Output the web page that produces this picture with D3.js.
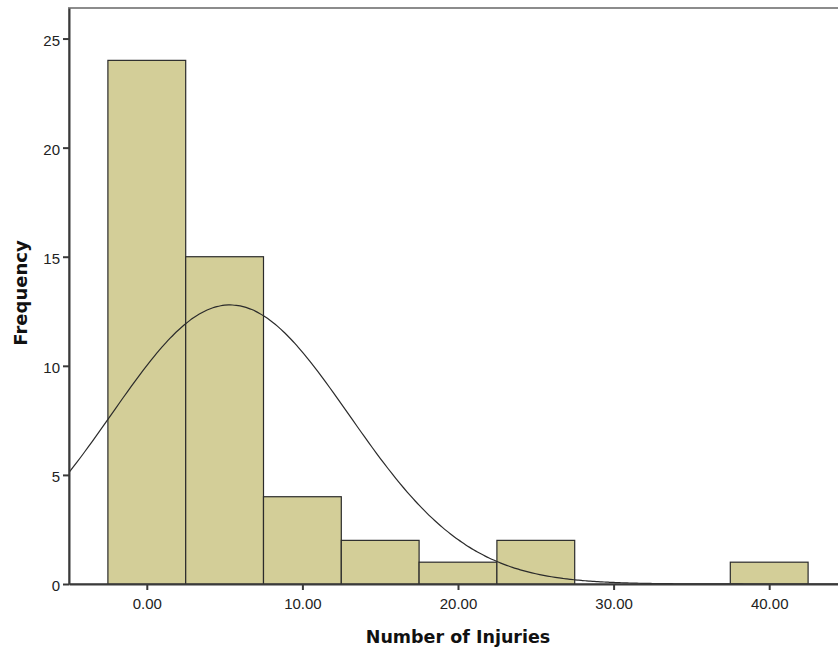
<!DOCTYPE html>
<html>
<head>
<meta charset="utf-8">
<script src="https://cdn.jsdelivr.net/npm/d3@7"></script>
<style>
  body { margin: 0; background: #fff; }
  text { font-family: "Liberation Sans", Arial, sans-serif; }
</style>
</head>
<body>
<div id="chart"></div>
<script>
// histogram data: bin centres and counts
var binCenters = [0, 5, 10, 15, 20, 25, 30, 35, 40];
var counts = [24, 15, 4, 2, 1, 2, 0, 0, 1];
var binWidth = 5;
var xTicks = [0, 10, 20, 30, 40];
var yTicks = [0, 5, 10, 15, 20, 25];

// normal curve parameters
var mean = 5.35;
var sd = 7.64;
var n = 49;

var svgWidth = 838;
var svgHeight = 650;
var margin = { top: 8, right: -9, bottom: 66, left: 69 };
var width = svgWidth - margin.left - margin.right;
var height = svgHeight - margin.top - margin.bottom;

var svg = d3.select("#chart")
  .append("svg")
  .attr("width", svgWidth)
  .attr("height", svgHeight);

var g = svg.append("g")
  .attr("transform", `translate(${margin.left}, ${margin.top})`);

var x = d3.scaleLinear().domain([-5, 45]).range([0, width]);
var y = d3.scaleLinear().domain([0, 26.4]).range([height, 0]);

g.append("clipPath").attr("id", "clip")
  .append("rect").attr("width", width).attr("height", height);

// frame
g.append("rect")
  .attr("width", width)
  .attr("height", height)
  .attr("fill", "none")
  .attr("stroke", "#8c8c8c")
  .attr("stroke-width", 2);

// bars
g.selectAll(".bar")
  .data(binCenters.map((c, i) => ({ c: c, v: counts[i] })).filter(d => d.v > 0))
  .enter()
  .append("rect")
  .attr("class", "bar")
  .attr("x", d => x(d.c - binWidth / 2))
  .attr("y", d => y(d.v))
  .attr("width", d => x(d.c + binWidth / 2) - x(d.c - binWidth / 2))
  .attr("height", d => height - y(d.v))
  .attr("fill", "#d3ce98")
  .attr("stroke", "#2b2b2b")
  .attr("stroke-width", 1.2);

// normal curve
var curveX = d3.range(-5, 45.01, 0.25);
var line = d3.line()
  .x(d => x(d))
  .y(d => y(n * binWidth * Math.exp(-Math.pow(d - mean, 2) / (2 * sd * sd)) / (sd * Math.sqrt(2 * Math.PI))))
  .curve(d3.curveBasis);

g.append("path")
  .datum(curveX)
  .attr("clip-path", "url(#clip)")
  .attr("d", line)
  .attr("fill", "none")
  .attr("stroke", "#2b2b2b")
  .attr("stroke-width", 1.2);

// axes
var xAxis = d3.axisBottom(x).tickValues(xTicks).tickFormat(d3.format(".2f")).tickSize(6).tickSizeOuter(0);
var yAxis = d3.axisLeft(y).tickValues(yTicks).tickSize(6).tickSizeOuter(0);

var gx = g.append("g")
  .attr("transform", `translate(0, ${height})`)
  .call(xAxis);
var gy = g.append("g").call(yAxis);

[gx, gy].forEach(function(a) {
  a.select(".domain").attr("stroke", "#3a3a3a").attr("stroke-width", 2);
  a.selectAll(".tick line").attr("stroke", "#3a3a3a").attr("stroke-width", 2);
  a.selectAll(".tick text").attr("fill", "#222").style("font-size", "15px");
});
gx.selectAll(".tick text").attr("y", 25).attr("dy", 0);
gy.selectAll(".tick text").attr("dy", "0.45em");

// axis titles
svg.append("text")
  .attr("x", 458)
  .attr("y", 643)
  .attr("text-anchor", "middle")
  .style("font-family", "'DejaVu Sans', Verdana, sans-serif")
  .style("font-size", "17.5px")
  .style("font-weight", "bold")
  .attr("fill", "#111")
  .text("Number of Injuries");

svg.append("text")
  .attr("transform", "translate(27, 293) rotate(-90)")
  .attr("text-anchor", "middle")
  .style("font-family", "'DejaVu Sans', Verdana, sans-serif")
  .style("font-size", "18px")
  .style("font-weight", "bold")
  .attr("fill", "#111")
  .text("Frequency");
</script>
</body>
</html>
